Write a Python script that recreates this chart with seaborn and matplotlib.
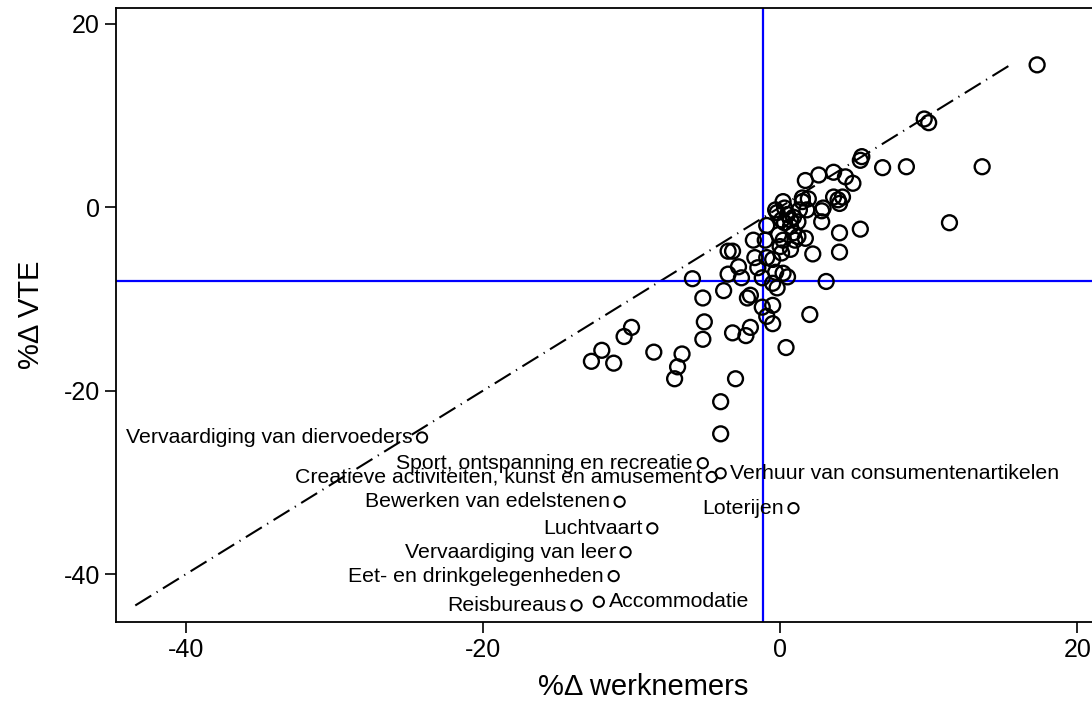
import matplotlib
matplotlib.use('Agg')
import matplotlib.pyplot as plt
import seaborn as sns
import pandas as pd

# %-verandering werknemers (x) en VTE (y) per bedrijfstak, zonder label
werknemers = [17.3, 9.7, 10.0, 5.5, 5.4, 6.9, 8.5, 13.6, 11.4, 1.7, 2.6, 3.6, 4.4, 4.9,
              3.6, 3.9, 4.0, 4.2, 2.8, 2.9, 2.8, 4.0, 4.0, 5.4, 2.2, 3.1, 1.5, 1.5, 1.9,
              1.3, 1.8, 0.2, 0.3, -0.3, -0.2, 0.5, 0.7, 0.9, 1.2, 0.1, 0.3, -0.9, -1.8,
              -1.0, 0.7, -0.1, 0.2, 0.9, 1.2, 1.7, 1.0, 0.0, 0.7, 0.1, -1.7, -0.9, -0.5,
              -1.5, -0.3, 0.2, 0.5, -1.2, -2.8, -2.6, -0.5, -0.2, -2.0, -2.2, -1.2, -0.5,
              -3.5, -3.2, -3.5, -5.9, -3.8, -5.2, -0.9, -0.5, 2.0, 0.4, -5.1, -5.2, -3.2,
              -2.3, -2.0, -3.0, -4.0, -4.0, -6.6, -6.9, -7.1, -12.7, -12.0, -11.2, -10.5,
              -10.0, -8.5]
vte = [15.5, 9.6, 9.2, 5.5, 5.1, 4.3, 4.4, 4.4, -1.7, 2.9, 3.5, 3.8, 3.3, 2.6,
       1.1, 0.8, 0.4, 1.1, -0.4, -0.1, -1.6, -2.8, -4.9, -2.4, -5.1, -8.1, 1.0, 0.6, 0.9,
       -0.3, -0.3, 0.6, -0.1, -0.3, -0.6, -0.8, -1.4, -1.1, -1.6, -1.4, -1.7, -2.0, -3.6,
       -3.6, -2.1, -3.0, -3.6, -2.8, -3.2, -3.4, -3.6, -4.3, -4.6, -5.0, -5.5, -5.5, -5.7,
       -6.6, -7.1, -7.2, -7.6, -7.7, -6.5, -7.7, -8.3, -8.8, -9.6, -9.9, -10.9, -10.7,
       -4.8, -4.8, -7.3, -7.8, -9.1, -9.9, -11.9, -12.7, -11.7, -15.3, -12.5, -14.4, -13.7,
       -14.0, -13.1, -18.7, -21.2, -24.7, -16.0, -17.4, -18.7, -16.8, -15.6, -17.0, -14.1,
       -13.1, -15.8]

# bedrijfstakken met label
labels = ["Vervaardiging van diervoeders", "Sport, ontspanning en recreatie",
          "Creatieve activiteiten, kunst en amusement", "Verhuur van consumentenartikelen",
          "Bewerken van edelstenen", "Loterijen", "Luchtvaart", "Vervaardiging van leer",
          "Eet- en drinkgelegenheden", "Reisbureaus", "Accommodatie"]
lab_werknemers = [-24.1, -5.2, -4.6, -4.0, -10.8, 0.9, -8.6, -10.4, -11.2, -13.7, -12.2]
lab_vte = [-25.1, -27.9, -29.4, -29.0, -32.1, -32.8, -35.0, -37.6, -40.2, -43.4, -43.0]
lab_side = ["l", "l", "l", "r", "l", "l", "l", "l", "l", "l", "r"]

gem_werknemers = -1.17
gem_vte = -8.0

sns.set_style("white")
plt.rcParams['font.family'] = ['Liberation Sans', 'DejaVu Sans']
plt.rcParams['axes.unicode_minus'] = False
plt.rcParams['text.color'] = 'black'
plt.rcParams['axes.labelcolor'] = 'black'
plt.rcParams['xtick.color'] = 'black'
plt.rcParams['ytick.color'] = 'black'

fig = plt.figure(figsize=(10.92, 7.04), dpi=100)
ax = fig.add_axes([0.1062, 0.1165, 0.9075, 0.8722])

df = pd.DataFrame({'x': werknemers, 'y': vte})
df_lab = pd.DataFrame({'x': lab_werknemers, 'y': lab_vte})

# lijn y = x van laagste tot hoogste VTE-waarde
alle_vte = vte + lab_vte
lo, hi = min(alle_vte), max(alle_vte)
ax.plot([lo, hi], [lo, hi], color='black', lw=1.5, dashes=(9, 3, 0.6, 3), zorder=1)

ax.axvline(gem_werknemers, color='#0000ff', lw=1.6, zorder=2)
ax.axhline(gem_vte, color='#0000ff', lw=1.6, zorder=2)

sns.scatterplot(data=df, x='x', y='y', ax=ax, marker='o', s=115,
                facecolors='none', edgecolor='black', linewidth=1.7, zorder=3)
sns.scatterplot(data=df_lab, x='x', y='y', ax=ax, marker='o', s=55,
                facecolors='none', edgecolor='black', linewidth=1.4, zorder=3)

for txt, x, y, side in zip(labels, lab_werknemers, lab_vte, lab_side):
    if side == "l":
        ax.annotate(txt, (x, y), xytext=(-7, 0), textcoords='offset points',
                    ha='right', va='center', fontsize=15.3, color='black')
    else:
        ax.annotate(txt, (x, y), xytext=(7, 0), textcoords='offset points',
                    ha='left', va='center', fontsize=15.3, color='black')

ax.set_xlim(-44.7, 22)
ax.set_ylim(-45.2, 21.7)
ax.set_xticks([-40, -20, 0, 20])
ax.set_yticks([-40, -20, 0, 20])
ax.tick_params(axis='both', direction='out', length=8, width=1.2, labelsize=18,
               bottom=True, left=True, color='black')
for sp in ax.spines.values():
    sp.set_linewidth(1.3)
    sp.set_color('black')
ax.spines['right'].set_visible(False)

ax.set_xlabel('%Δ werknemers', fontsize=21)
ax.set_ylabel('%Δ VTE', fontsize=21)
ax.xaxis.set_label_coords(0.532, -0.083)
ax.yaxis.set_label_coords(-0.072, 0.5)

fig.savefig('out.png', dpi=100)
plt.close(fig)
